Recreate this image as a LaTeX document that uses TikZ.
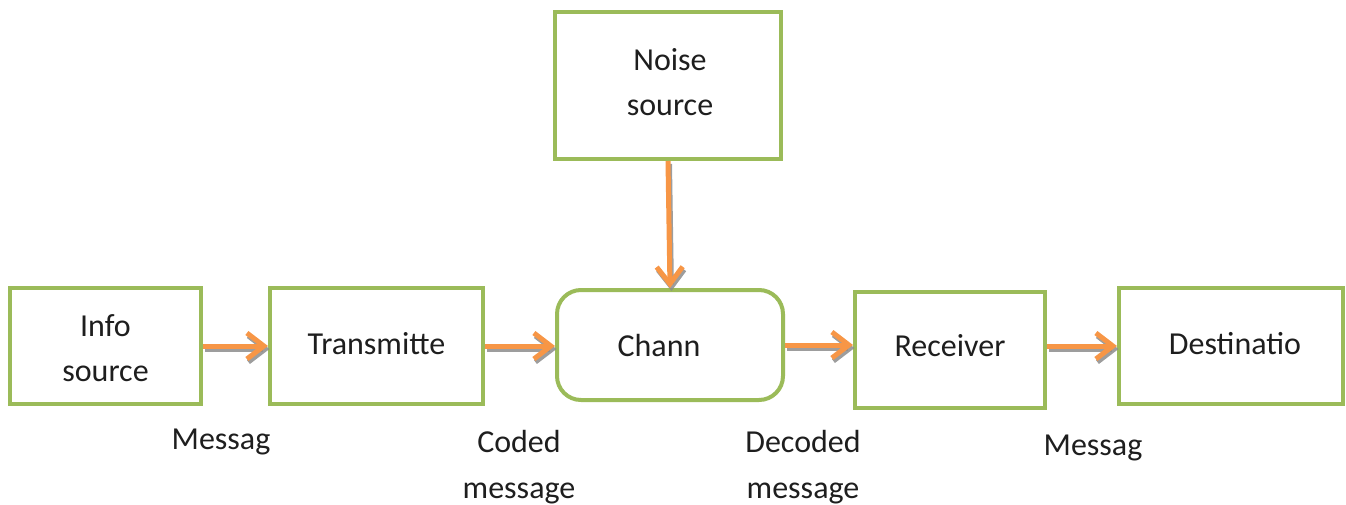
\documentclass[tikz,border=0pt]{standalone}
\usepackage{fontspec}
\setmainfont{Carlito}
\usetikzlibrary{arrows.meta}
\definecolor{boxgreen}{HTML}{9BBB59}
\definecolor{flowor}{HTML}{F79646}
\definecolor{shade}{HTML}{8C8C8C}
\definecolor{ink}{HTML}{1E1E1E}
\newcommand{\twolines}[2]{\begin{tabular}{@{}c@{}}#1\\#2\end{tabular}}
% move a text up or down inside its box without changing the box size
\newcommand{\lift}[2]{\raisebox{#1}[\height][\depth]{#2}}
\tikzset{
  blockbox/.style={draw=boxgreen, line width=4pt, fill=white, rectangle,
    align=center, text=ink, font=\fontsize{32}{45}\selectfont},
  lbl/.style={align=center, text=ink, font=\fontsize{32}{46}\selectfont},
  flowtip/.style={-{Straight Barb[length=17pt,width=26pt,line width=5pt]}},
  flow/.style={flowtip, draw=flowor, line width=5pt},
  flowshade/.style={flowtip, draw=shade, line width=5pt, opacity=0.85,
    transform canvas={shift={(1.5pt,-3pt)}}}
}
\begin{document}
\begin{tikzpicture}[x=1pt,y=-1pt]
\useasboundingbox (0,0) rectangle (1346,504);

% blocks
\node[blockbox, minimum width=191pt, minimum height=116pt] (info) at (105.5,346) {\lift{-4pt}{\twolines{Info}{source}}};
\node[blockbox, minimum width=213pt, minimum height=116pt] (trans) at (376.5,346) {\lift{2pt}{Transmitte}};
\node[blockbox, minimum width=226pt, minimum height=110pt, rounded corners=24pt] (chan) at (670,345) {\hspace*{-22pt}Chann};
\node[blockbox, minimum width=190pt, minimum height=116pt] (rec) at (950,350) {\lift{4pt}{Receiver}};
\node[blockbox, minimum width=224pt, minimum height=116pt] (dest) at (1231,346) {\hspace*{8pt}\lift{2pt}{Destinatio}};
\node[blockbox, minimum width=226pt, minimum height=147pt] (noise) at (668,85.5) {\hspace*{4pt}\lift{2pt}{\twolines{Noise}{source}}};

% labels under the links
\node[lbl] (m1) at (221,442) {Messag};
\node[lbl] (m2) at (519,467) {Coded\\message};
\node[lbl] (m3) at (803,467) {Decoded\\message};
\node[lbl] (m4) at (1093,448) {Messag};

% shadows of the flow arrows
\draw[flowshade] (info.east) -- (trans.west);
\draw[flowshade] (trans.east) -- (chan.west |- trans.east);
\draw[flowshade] (chan.east) -- (rec.west |- chan.east);
\draw[flowshade] (rec.west -| rec.east) ++(0,-4) coordinate (r1) (r1) -- (dest.west |- r1);
\draw[flowshade] (noise.south) -- (chan.north);

% flow arrows
\draw[flow] (info.east) -- (trans.west);
\draw[flow] (trans.east) -- (chan.west |- trans.east);
\draw[flow] (chan.east) -- (rec.west |- chan.east);
\draw[flow] (r1) -- (dest.west |- r1);
\draw[flow] (noise.south) -- (chan.north);
\end{tikzpicture}
\end{document}
